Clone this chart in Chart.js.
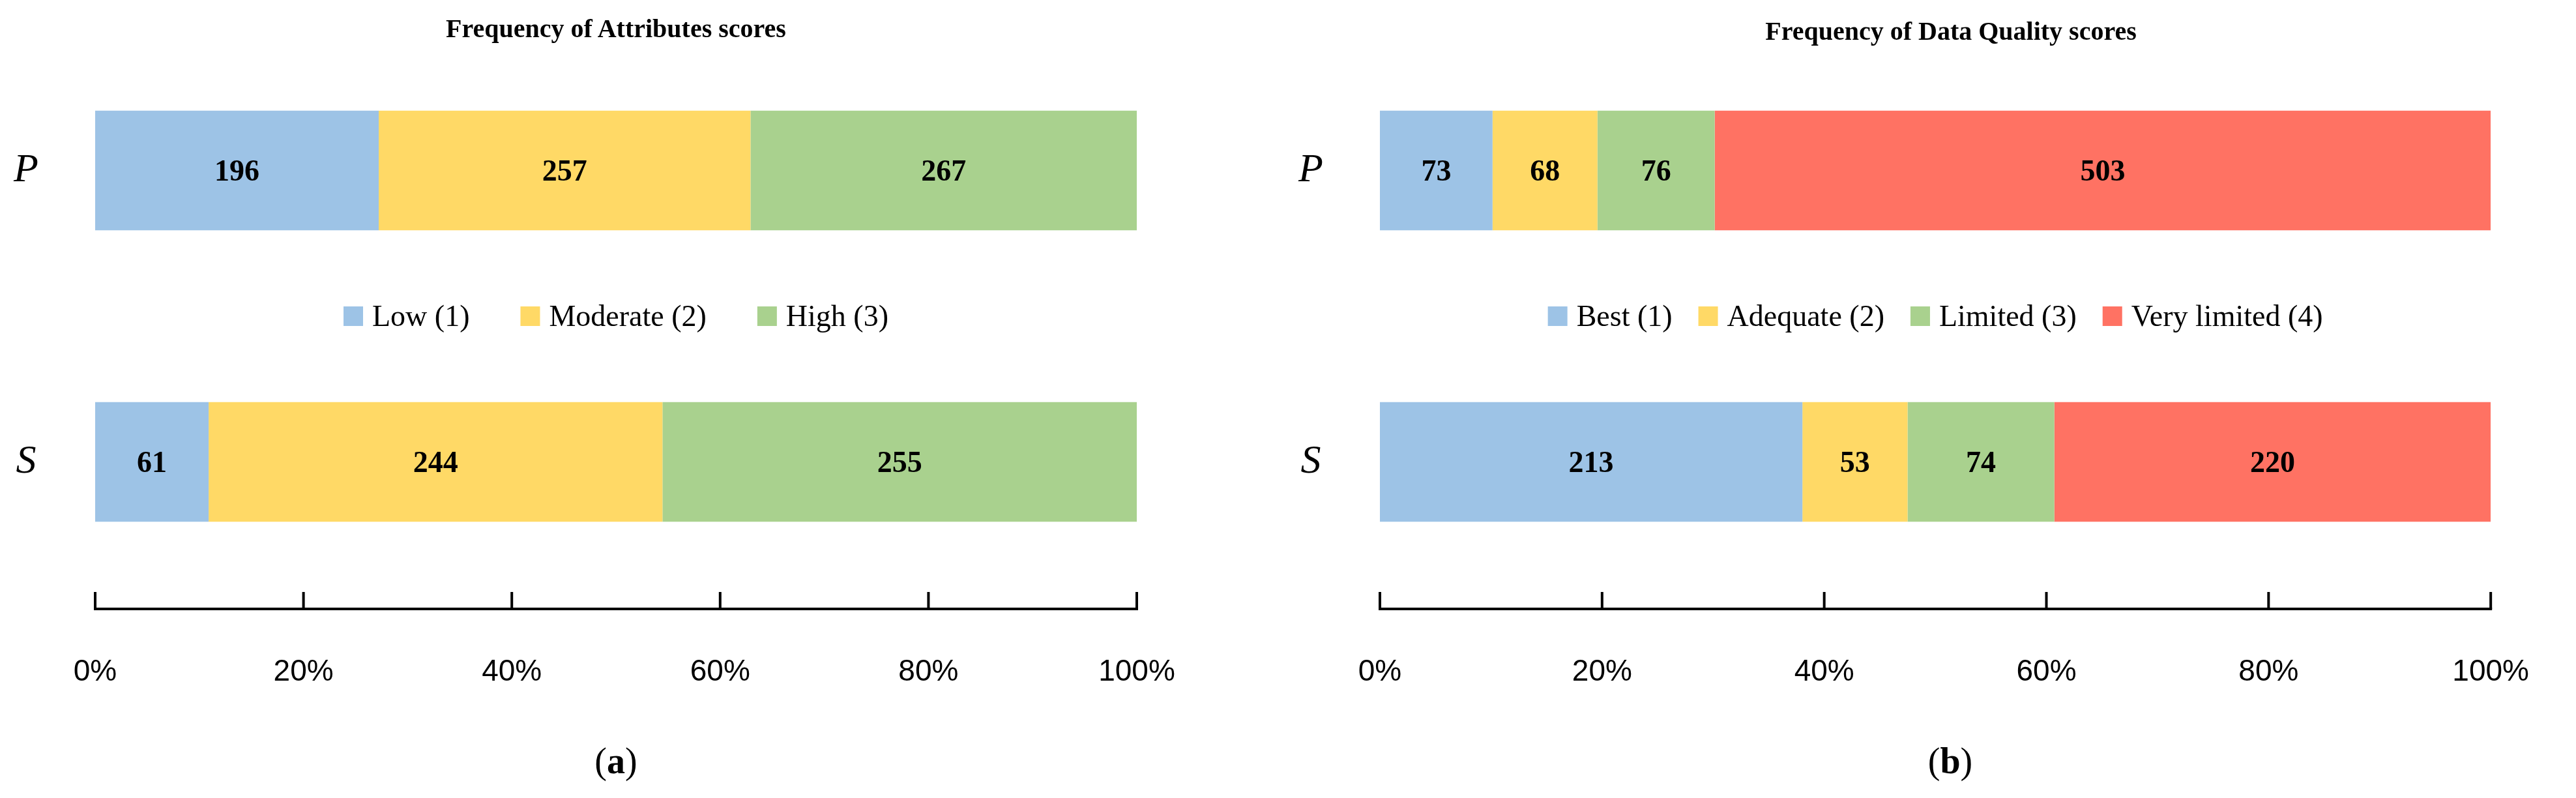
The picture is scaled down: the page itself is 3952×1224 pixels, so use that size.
<!DOCTYPE html>
<html><head><meta charset="utf-8">
<script src="https://cdn.jsdelivr.net/npm/chart.js@4"></script>
<style>
body{margin:0;background:#fff;width:3952px;height:1224px;position:relative;overflow:hidden;font-family:"Liberation Serif",serif}
.c{position:absolute;top:0;width:1976px;height:1224px}
.t{position:absolute;font-weight:bold;font-size:40px;text-align:center;width:1000px}
.cap{position:absolute;font-size:56px;text-align:center;width:400px;top:1135px}
</style></head><body>
<div class="c" style="left:0"><canvas id="a" width="1976" height="1224"></canvas></div>
<div class="c" style="left:1976px"><canvas id="b" width="1976" height="1224"></canvas></div>
<div class="t" style="left:445px;top:20px">Frequency of Attributes scores</div>
<div class="t" style="left:2493px;top:24px">Frequency of Data Quality scores</div>
<div class="cap" style="left:745px">(<b>a</b>)</div>
<div class="cap" style="left:2792px">(<b>b</b>)</div>
<script>
const groups = ['P','S'];
const attrSeries = ['Low (1)','Moderate (2)','High (3)'];
const attrP = [196,257,267];
const attrS = [61,244,255];
const dqSeries = ['Best (1)','Adequate (2)','Limited (3)','Very limited (4)'];
const dqP = [73,68,76,503];
const dqS = [213,53,74,220];
const xTicks = [0,20,40,60,80,100];
const colors = ['#9DC3E6','#FFD966','#A9D18E','#FF7263'];

function build(id, series, pv, sv, pad){
  const tp = pv.reduce((a,b)=>a+b,0), ts = sv.reduce((a,b)=>a+b,0);
  const datasets = series.map((n,i)=>({
    label:n, data:[pv[i]/tp*100, sv[i]/ts*100], counts:[pv[i],sv[i]],
    backgroundColor:colors[i], borderWidth:0, barPercentage:0.41, categoryPercentage:1
  }));
  const plug = {
    id:'extras',
    afterDatasetsDraw(ch){
      const c=ch.ctx, x=ch.scales.x, y=ch.scales.y;
      c.save();
      // bar labels
      c.font='bold 46px "Liberation Serif"'; c.fillStyle='#000'; c.textAlign='center'; c.textBaseline='middle';
      ch.data.datasets.forEach((ds,di)=>{
        ch.getDatasetMeta(di).data.forEach((el,j)=>{
          const p=el.getProps(['x','base','y']);
          c.fillText(String(ds.counts[j]), (p.x+p.base)/2, p.y+4);
        });
      });
      // category labels
      c.font='italic 62px "Liberation Serif"';
      groups.forEach((g,j)=>c.fillText(g, x.left-106, y.getPixelForValue(j)));
      // upward ticks
      c.strokeStyle='#000'; c.lineWidth=4;
      xTicks.forEach(v=>{const px=x.getPixelForValue(v); c.beginPath(); c.moveTo(px,y.bottom+2); c.lineTo(px,y.bottom-24); c.stroke();});
      c.beginPath(); c.moveTo(x.left-2,y.bottom+2); c.lineTo(x.right+2,y.bottom+2); c.stroke();
      // legend
      const ly=(y.getPixelForValue(0)+y.getPixelForValue(1))/2;
      c.font='46px "Liberation Serif"'; c.textAlign='left';
      const box=30, gap=14, sep=pad.sep;
      const widths=series.map(s=>box+gap+c.measureText(s).width);
      const total=widths.reduce((a,b)=>a+b,0)+sep*(series.length-1);
      let lx=(x.left+x.right)/2-total/2;
      series.forEach((s,i)=>{
        c.fillStyle=colors[i]; c.fillRect(lx,ly-box/2,box,box);
        c.fillStyle='#000'; c.fillText(s,lx+box+gap,ly+3);
        lx+=widths[i]+sep;
      });
      c.restore();
    }
  };
  new Chart(document.getElementById(id),{
    type:'bar',
    data:{labels:groups,datasets},
    options:{
      indexAxis:'y', responsive:false, animation:false,
      layout:{padding:{left:pad.left,right:pad.right,top:38,bottom:0}},
      plugins:{legend:{display:false},tooltip:{enabled:false},title:{display:false}},
      scales:{
        x:{stacked:true,min:0,max:100,
          afterBuildTicks(s){s.ticks=xTicks.map(v=>({value:v}));},
          afterFit(s){s.height=292;},
          grid:{display:false,drawTicks:false}, border:{display:false},
          ticks:{padding:72,color:'#000',font:{family:'"Liberation Sans Narrow","Liberation Sans"',size:46},callback:v=>v+'%'}},
        y:{stacked:true,display:false}
      }
    },
    plugins:[plug]
  });
}
build('a', attrSeries, attrP, attrS, {left:146,right:232,sep:78});
build('b', dqSeries, dqP, dqS, {left:141,right:84,sep:40});
</script></body></html>
